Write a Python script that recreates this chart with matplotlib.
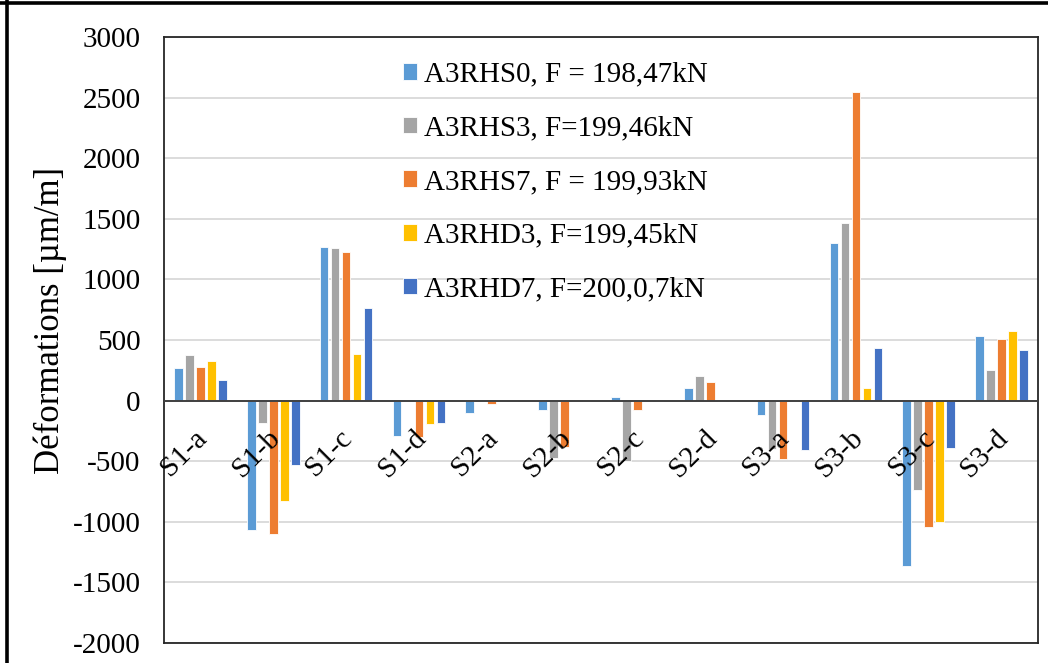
import matplotlib
matplotlib.use("Agg")
import matplotlib.pyplot as plt
from matplotlib.lines import Line2D
import numpy as np

categories = ["S1-a", "S1-b", "S1-c", "S1-d", "S2-a", "S2-b", "S2-c", "S2-d",
              "S3-a", "S3-b", "S3-c", "S3-d"]
series_names = ["A3RHS0, F = 198,47kN", "A3RHS3, F=199,46kN", "A3RHS7, F = 199,93kN",
                "A3RHD3, F=199,45kN", "A3RHD7, F=200,0,7kN"]
a3rhs0 = [270, -1065, 1269, -292, -99, -80, 27, 102, -116, 1302, -1363, 529]
a3rhs3 = [380, -182, 1258, 0, 0, -477, -496, 203, -402, 1462, -735, 250]
a3rhs7 = [278, -1100, 1222, -300, -25, -386, -80, 151, -485, 2547, -1041, 509]
a3rhd3 = [325, -826, 388, -190, 0, 0, 0, 0, 0, 104, -1005, 572]
a3rhd7 = [168, -534, 768, -182, 0, 0, 0, 0, -411, 435, -394, 415]
yticks = [-2000, -1500, -1000, -500, 0, 500, 1000, 1500, 2000, 2500, 3000]

series = [a3rhs0, a3rhs3, a3rhs7, a3rhd3, a3rhd7]
colors = ["#5B9BD5", "#A5A5A5", "#ED7D31", "#FFC000", "#4472C4"]

plt.rcParams['font.family'] = ['Liberation Serif', 'DejaVu Serif']
FS = 21

W, H = 1048, 663
fig = plt.figure(figsize=(W / 100, H / 100), dpi=100)
ax = fig.add_axes([164 / W, 1 - 643 / H, (1038 - 164) / W, (643 - 37) / H])

x = np.arange(len(categories))
pitch = 0.151
for k, (vals, c, name) in enumerate(zip(series, colors, series_names)):
    ax.bar(x + (k - 2) * pitch, vals, width=0.118, color=c, edgecolor='white',
           linewidth=0.6, label=name, zorder=3)

ax.set_xlim(-0.5, len(categories) - 0.5)
ax.set_ylim(-2000, 3000)
ax.set_yticks(yticks)
ax.set_yticklabels([str(v) for v in yticks], fontsize=FS)
ax.tick_params(axis='y', length=0, pad=17)
ax.set_xticks([])
ax.grid(axis='y', color='#D9D9D9', linewidth=1.3, zorder=0)
ax.axhline(0, color='#404040', linewidth=1.4, zorder=4)
for s in ax.spines.values():
    s.set_color('#262626')
    s.set_linewidth(1.3)

for i, lab in enumerate(categories):
    ax.annotate(lab, xy=(i, 0), xytext=(-12, -38), textcoords='offset points',
                rotation=45, ha='center', va='center', fontsize=FS, zorder=5)

ax.set_ylabel("Déformations [µm/m]", fontsize=25)
ax.yaxis.set_label_coords((67 - 164) / (1038 - 164), (643 - 320) / (643 - 37))

leg = ax.legend(loc='upper left', bbox_to_anchor=((391 - 164) / (1038 - 164), 1 - (50 - 37) / (643 - 37)),
                frameon=False, fontsize=FS, handlelength=0.5, handleheight=0.5,
                handletextpad=0.22, labelspacing=0.95, borderaxespad=0)

# outer frame of the figure (top and left edges visible)
fig.add_artist(Line2D([0, 1], [1 - 2.5 / H, 1 - 2.5 / H], transform=fig.transFigure,
                      color='black', linewidth=2.6))
fig.add_artist(Line2D([6.5 / W, 6.5 / W], [0, 1], transform=fig.transFigure,
                      color='black', linewidth=2.6))

fig.savefig("out.png", dpi=100)
